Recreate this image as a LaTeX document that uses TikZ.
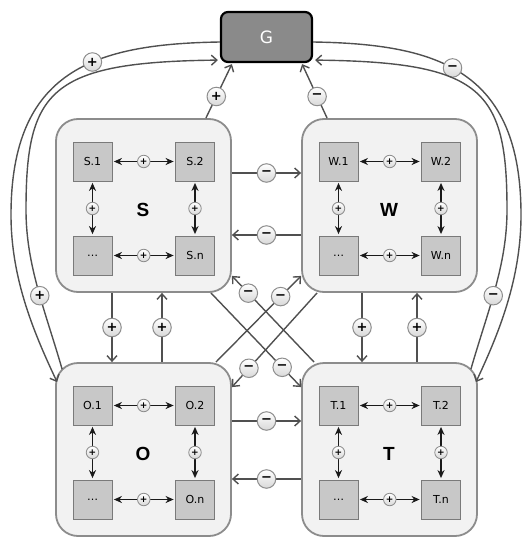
\documentclass[tikz,border=0pt]{standalone}
\usepackage{fontspec}
\setmainfont{DejaVu Sans}
\newfontfamily\grpfont{Liberation Sans}
\usetikzlibrary{arrows.meta,calc}
\definecolor{grpfill}{HTML}{F2F2F2}
\definecolor{grpdraw}{HTML}{8C8C8C}
\definecolor{boxfill}{HTML}{C8C8C8}
\definecolor{boxdraw}{HTML}{7A7A7A}
\definecolor{outcol}{HTML}{505050}
\definecolor{incol}{HTML}{1A1A1A}
\definecolor{gfill}{HTML}{8A8A8A}
\definecolor{pmdraw}{HTML}{8E8E8E}
\definecolor{pmshade}{HTML}{D8D8D8}
\tikzset{
 grp/.style={draw=grpdraw, fill=grpfill, line width=1.8pt, rounded corners=22pt,
   minimum width=175pt, minimum height=173pt, inner sep=0pt},
 glabel/.style={font=\grpfont\bfseries\fontsize{19}{19}\selectfont, inner sep=0pt},
 ibox/.style={draw=boxdraw, fill=boxfill, line width=0.8pt, minimum size=39pt,
   inner sep=0pt, font=\fontsize{11}{11}\selectfont},
 gbox/.style={draw=black, fill=gfill, line width=2.2pt, rounded corners=7pt,
   minimum width=91pt, minimum height=50pt, font=\fontsize{17}{17}\selectfont, text=white},
 iarrow/.style={draw=incol, line width=1.5pt,
   arrows={Stealth[length=8pt,width=7pt,inset=2.5pt]-Stealth[length=8pt,width=7pt,inset=2.5pt]},
   shorten >=1.5pt, shorten <=1.5pt},
 oarrow/.style={draw=outcol, line width=1.4pt,
   arrows={-Straight Barb[length=5.5pt,width=10pt]}},
 pm/.style={circle, draw=pmdraw, line width=1pt, top color=white, bottom color=pmshade,
   minimum size=18.5pt, inner sep=0pt, text=black, font=\bfseries\fontsize{13}{13}\selectfont},
 spm/.style={pm, minimum size=12.5pt, line width=0.8pt, font=\bfseries\fontsize{9}{9}\selectfont},
}
\newcommand\mkgrp[4]{%
 \node[grp] (#1) at ({#2+87.5},{#3+86.5}) {};
 \node[glabel] (#1lab) at ({#2+87},{#3+91}) {#4};
 \node[ibox] (#1a) at ({#2+36.5},{#3+42.5}) {#4.1};
 \node[ibox] (#1b) at ({#2+139},{#3+42.5}) {#4.2};
 \node[ibox] (#1c) at ({#2+36.5},{#3+136.5}) {…};
 \node[ibox] (#1d) at ({#2+139},{#3+136.5}) {#4.n};
 \draw[iarrow] (#1a) -- node[spm]{+} (#1b);
 \draw[iarrow] (#1c) -- node[spm]{+} (#1d);
 \draw[iarrow] (#1a) -- node[spm]{+} (#1c);
 \draw[iarrow] (#1b) -- node[spm]{+} (#1d);
}
\begin{document}
\begin{tikzpicture}[x=1pt,y=-1pt]
\useasboundingbox (0,0) rectangle (523,537);
\node[gbox] (G) at (266.5,37) {G};
\mkgrp{S}{56}{119}{S}
\mkgrp{W}{302}{119}{W}
\mkgrp{O}{56}{363}{O}
\mkgrp{T}{302}{363}{T}
% group to G
\draw[oarrow] ($(S.north east)+(-26,0)$) -- node[pm,pos=0.4]{+} ($(G.south west)+(12,1)$);
\draw[oarrow] ($(W.north west)+(26,0)$) -- node[pm,pos=0.4]{−} ($(G.south east)+(-11,1)$);
% horizontal
\draw[oarrow] ([yshift=32.5pt]S.east) -- node[pm]{−} ([yshift=32.5pt]W.west);
\draw[oarrow] ([yshift=-29.5pt]W.west) -- node[pm]{−} ([yshift=-29.5pt]S.east);
\draw[oarrow] ([yshift=28.5pt]O.east) -- node[pm]{−} ([yshift=28.5pt]T.west);
\draw[oarrow] ([yshift=-29.5pt]T.west) -- node[pm]{−} ([yshift=-29.5pt]O.east);
% vertical
\draw[oarrow] ([xshift=-31.5pt]S.south) -- node[pm]{+} ([xshift=-31.5pt]O.north);
\draw[oarrow] ([xshift=18.5pt]O.north) -- node[pm]{+} ([xshift=18.5pt]S.south);
\draw[oarrow] ([xshift=-27.5pt]W.south) -- node[pm]{+} ([xshift=-27.5pt]T.north);
\draw[oarrow] ([xshift=27.5pt]T.north) -- node[pm]{+} ([xshift=27.5pt]W.south);
% diagonals
\draw[oarrow] ($(S.south east)+(-21,0)$) -- node[pm,pos=0.79]{−} ($(T.north west)+(0,25)$);
\draw[oarrow] ($(T.north west)+(13,0)$) -- node[pm,pos=0.8]{−} ($(S.south east)+(0,-17)$);
\draw[oarrow] ($(W.south west)+(16,0)$) -- node[pm,pos=0.8]{−} ($(O.north east)+(0,25)$);
\draw[oarrow] ($(O.north east)+(-16,0)$) -- node[pm,pos=0.76]{−} ($(W.south west)+(0,-17)$);
% outer curves left
\draw[oarrow] ($(G.west)+(0,5)$) .. controls (95,44) and (11,70) .. (11,215)
   node[pm,pos=0.4]{+} .. controls (11,280) and (35,335) .. ($(O.north west)+(2,20)$);
\draw[oarrow] ($(O.north west)+(7,7)$) .. controls (45,310) and (26,265) .. (26,210)
   node[pm,pos=0.45]{+} .. controls (26,90) and (50,62) .. ($(G.south west)+(-2,-3)$);
% outer curves right
\draw[oarrow] ($(G.east)+(0,5)$) .. controls (438,44) and (521,70) .. (521,215)
   node[pm,pos=0.45]{−} .. controls (521,280) and (498,335) .. ($(T.north east)+(-2,20)$);
\draw[oarrow] ($(T.north east)+(-7,7)$) .. controls (488,310) and (507,265) .. (507,210)
   node[pm,pos=0.45]{−} .. controls (507,90) and (483,62) .. ($(G.south east)+(2,-3)$);
\end{tikzpicture}
\end{document}
